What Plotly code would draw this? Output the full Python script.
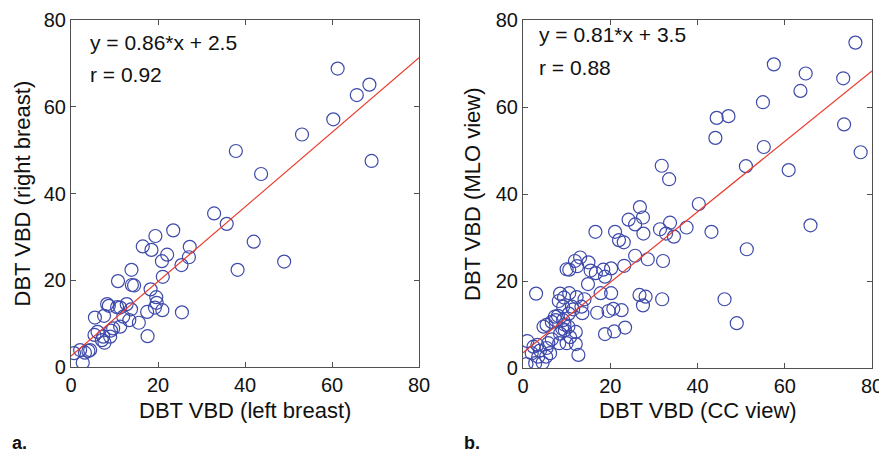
import plotly.graph_objects as go

# ---- data ----
left_x = [61.3, 68.6, 65.7, 60.3, 53.1, 37.9, 43.7, 69.1, 32.9, 35.8, 42.0, 49.0, 38.3,
          23.5, 19.4, 16.5, 18.5, 27.3, 22.1, 27.1, 20.9, 25.4, 21.1, 13.9, 10.8, 14.0,
          14.5, 18.3, 19.6, 19.7, 19.3, 21.0, 17.5, 25.5, 17.6, 15.6, 13.8, 12.8, 11.3,
          8.7, 8.3, 10.6, 5.5, 7.6, 12.0, 13.4, 11.3, 9.7, 9.2, 6.1, 5.4, 7.4, 7.7, 9.0,
          7.1, 0.7, 2.1, 2.7, 4.0, 3.2, 4.4]
right_y = [68.8, 65.1, 62.7, 57.1, 53.6, 49.8, 44.5, 47.5, 35.4, 33.0, 28.9, 24.3, 22.4,
           31.5, 30.2, 27.8, 27.0, 27.7, 25.9, 25.3, 24.4, 23.5, 20.8, 22.4, 19.8, 18.9,
           18.8, 17.9, 16.1, 14.8, 13.7, 13.1, 12.7, 12.6, 7.1, 10.2, 13.3, 14.5, 13.7,
           14.1, 14.5, 13.8, 11.4, 11.8, 11.6, 10.8, 9.3, 8.9, 8.4, 8.1, 7.4, 7.0, 5.6, 7.0,
           6.2, 3.2, 3.9, 1.0, 3.7, 3.3, 3.9]

cc_x = [76.2, 57.5, 64.8, 73.4, 63.6, 55.0, 44.4, 47.1, 73.6, 44.1, 55.2, 77.4, 51.1,
        31.8, 60.9, 33.5, 40.3, 26.8, 27.5, 24.2, 25.7, 33.7, 37.5, 31.4, 43.2, 65.9,
        16.6, 21.1, 27.6, 32.8, 34.6, 22.0, 23.1, 51.3, 25.7, 28.6, 32.1, 13.1, 11.9,
        10.6, 10.0, 12.4, 15.0, 15.5, 16.7, 18.4, 20.2, 18.8, 23.2, 14.9, 3.0, 8.5, 10.6,
        17.8, 20.2, 26.7, 28.1, 31.9, 46.2, 27.5, 17.0, 19.6, 20.7, 22.6, 49.0, 18.8,
        20.9, 23.4, 8.2, 9.4, 12.3, 14.1, 11.2, 9.2, 13.4, 13.6, 7.3, 5.4, 4.7, 6.6, 9.2,
        10.4, 9.6, 12.1, 8.5, 10.8, 12.1, 10.0, 8.3, 12.7, 6.6, 5.8, 5.4, 6.2, 5.3, 3.3,
        1.0, 2.4, 3.9, 2.0, 3.5, 0.8, 2.8, 4.5, 9.0, 9.5, 10.5, 11.5, 8.0, 7.5]
mlo_y = [74.8, 69.8, 67.7, 66.6, 63.7, 61.1, 57.5, 57.9, 56.0, 52.9, 50.8, 49.6, 46.4,
         46.5, 45.5, 43.4, 37.7, 37.0, 34.6, 34.1, 33.0, 33.4, 32.3, 31.9, 31.3, 32.8,
         31.3, 31.3, 30.9, 30.9, 30.2, 29.4, 28.9, 27.3, 25.8, 25.0, 24.6, 25.4, 24.6,
         22.6, 22.7, 23.4, 24.3, 22.4, 21.8, 22.6, 22.9, 21.0, 23.5, 19.3, 17.1, 17.1, 17.2,
         17.2, 17.2, 16.8, 16.4, 15.8, 15.8, 14.4, 12.7, 13.1, 13.6, 13.3, 10.3, 7.8,
         8.4, 9.3, 15.4, 16.2, 16.3, 15.8, 14.1, 14.1, 14.1, 12.6, 11.8, 9.9, 9.5, 10.6, 11.0,
         9.5, 8.7, 8.3, 7.9, 7.1, 5.5, 5.7, 5.7, 3.0, 6.6, 5.7, 4.6, 3.4, 2.6, 5.3,
         6.2, 4.9, 4.0, 3.4, 2.6, 0.9, 1.1, 1.2, 9.0, 10.0, 12.5, 13.5, 12.0, 11.0]

fit_x = [0, 80]
slope_a, icpt_a = 0.86, 2.5
slope_b, icpt_b = 0.81, 3.5
tick_vals = [0, 20, 40, 60, 80]

# ---- styling ----
OFF = 8  # default page body margin
W, H = 887 - OFF, 452 - OFF
BLUE = "rgb(62,74,170)"
RED = "rgb(235,60,45)"
AX = "#505050"
FONT = "Liberation Sans, Arial, Helvetica, sans-serif"

def px(x):
    return (x - OFF) / W

def py(y):
    return 1 - (y - OFF) / H

fig = go.Figure()

fig.add_trace(go.Scatter(x=left_x, y=right_y, mode="markers", xaxis="x", yaxis="y",
                         marker=dict(symbol="circle-open", size=13, color=BLUE,
                                     line=dict(width=1.2, color=BLUE)),
                         showlegend=False))
fig.add_trace(go.Scatter(x=fit_x, y=[slope_a * v + icpt_a for v in fit_x], mode="lines",
                         xaxis="x", yaxis="y", line=dict(color=RED, width=1.2),
                         showlegend=False))
fig.add_trace(go.Scatter(x=cc_x, y=mlo_y, mode="markers", xaxis="x2", yaxis="y2",
                         marker=dict(symbol="circle-open", size=13, color=BLUE,
                                     line=dict(width=1.2, color=BLUE)),
                         showlegend=False))
fig.add_trace(go.Scatter(x=fit_x, y=[slope_b * v + icpt_b for v in fit_x], mode="lines",
                         xaxis="x2", yaxis="y2", line=dict(color=RED, width=1.2),
                         showlegend=False))

axis_common = dict(range=[0, 80], tickvals=tick_vals, ticks="inside", ticklen=5,
                   tickcolor=AX, showline=True, linecolor=AX, linewidth=1.2,
                   mirror="allticks", showgrid=False, zeroline=False, automargin=False,
                   tickfont=dict(family=FONT, size=20, color="#111"))

fig.update_layout(
    width=W, height=H,
    margin=dict(l=0, r=0, t=0, b=0),
    paper_bgcolor="white", plot_bgcolor="white",
    xaxis=dict(domain=[px(71), px(419)], anchor="y", **axis_common),
    yaxis=dict(domain=[py(367), py(20)], anchor="x", **axis_common),
    xaxis2=dict(domain=[px(523), px(872)], anchor="y2", **axis_common),
    yaxis2=dict(domain=[py(368), py(20)], anchor="x2", **axis_common),
)

eq = dict(family=FONT, size=21, color="#111")
ttl = dict(family=FONT, size=22, color="#111")
ann = [
    dict(text="y = 0.86*x + 2.5", x=3.9, y=74.9, xref="x", yref="y", xanchor="left", yanchor="middle", showarrow=False, font=eq),
    dict(text="r = 0.92", x=3.9, y=67.4, xref="x", yref="y", xanchor="left", yanchor="middle", showarrow=False, font=eq),
    dict(text="y = 0.81*x + 3.5", x=3.1, y=76.6, xref="x2", yref="y2", xanchor="left", yanchor="middle", showarrow=False, font=eq),
    dict(text="r = 0.88", x=3.1, y=69.0, xref="x2", yref="y2", xanchor="left", yanchor="middle", showarrow=False, font=eq),
    dict(text="DBT VBD (left breast)", x=px(245), y=py(410), xref="paper", yref="paper", xanchor="center", yanchor="middle", showarrow=False, font=ttl),
    dict(text="DBT VBD (CC view)", x=px(697.5), y=py(410), xref="paper", yref="paper", xanchor="center", yanchor="middle", showarrow=False, font=ttl),
    dict(text="DBT VBD (right breast)", x=px(22), y=py(193.5), xref="paper", yref="paper", xanchor="center", yanchor="middle", textangle=-90, showarrow=False, font=ttl),
    dict(text="DBT VBD (MLO view)", x=px(473), y=py(194), xref="paper", yref="paper", xanchor="center", yanchor="middle", textangle=-90, showarrow=False, font=ttl),
    dict(text="<b>a.</b>", x=px(10), y=py(443), xref="paper", yref="paper", xanchor="left", yanchor="middle", showarrow=False, font=dict(family=FONT, size=18, color="#111")),
    dict(text="<b>b.</b>", x=px(462), y=py(443), xref="paper", yref="paper", xanchor="left", yanchor="middle", showarrow=False, font=dict(family=FONT, size=18, color="#111")),
]
fig.update_layout(annotations=ann)

fig.write_html("out.html")
